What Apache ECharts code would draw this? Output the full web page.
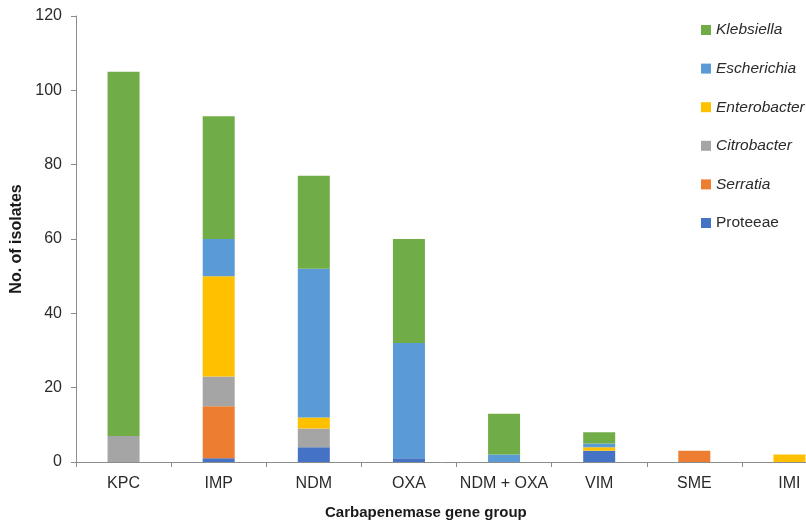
<!DOCTYPE html>
<html>
<head>
<meta charset="utf-8">
<script src="https://cdn.jsdelivr.net/npm/echarts@6/dist/echarts.min.js"></script>
<style>
  html, body { margin: 0; padding: 0; background: #fff; }
  #chart { width: 806px; height: 523px; }
</style>
</head>
<body>
<div id="chart"></div>
<script>
// Carbapenemase gene groups and isolate counts per genus
const categories = ['KPC', 'IMP', 'NDM', 'OXA', 'NDM + OXA', 'VIM', 'SME', 'IMI'];
const proteeae     = [0, 1, 4, 1, 0, 3, 0, 0];
const serratia     = [0, 14, 0, 0, 0, 0, 3, 0];
const citrobacter  = [7, 8, 5, 0, 0, 0, 0, 0];
const enterobacter = [0, 27, 3, 0, 0, 1, 0, 2];
const escherichia  = [0, 10, 40, 31, 2, 1, 0, 0];
const klebsiella   = [98, 33, 25, 28, 11, 3, 0, 0];
const yTicks = [0, 20, 40, 60, 80, 100, 120];

const FONT = "'Liberation Sans', Arial, sans-serif";
const TXT = '#2b2b2b';

const stackDefs = [
  { name: 'Proteeae', data: proteeae, color: '#4472C4' },
  { name: 'Serratia', data: serratia, color: '#ED7D31' },
  { name: 'Citrobacter', data: citrobacter, color: '#A5A5A5' },
  { name: 'Enterobacter', data: enterobacter, color: '#FFC000' },
  { name: 'Escherichia', data: escherichia, color: '#5B9BD5' },
  { name: 'Klebsiella', data: klebsiella, color: '#70AD47' }
];

const chart = echarts.init(document.getElementById('chart'), null, { renderer: 'canvas' });

chart.setOption({
  animation: false,
  backgroundColor: '#fff',
  textStyle: { fontFamily: FONT },
  // plot area runs past the right edge of the canvas; the last column is cut off
  grid: { left: 76, top: 16, bottom: 61, width: 761, containLabel: false, outerBoundsMode: 'none' },
  legend: {
    orient: 'vertical',
    left: 701,
    top: 22,
    padding: 0,
    itemWidth: 10,
    itemHeight: 10,
    itemGap: 22.6,
    icon: 'rect',
    data: ['Klebsiella', 'Escherichia', 'Enterobacter', 'Citrobacter', 'Serratia', 'Proteeae'],
    formatter: function (n) { return n === 'Proteeae' ? '{n|' + n + '}' : '{i|' + n + '}'; },
    textStyle: {
      fontFamily: FONT,
      fontSize: 15.5,
      color: TXT,
      rich: {
        i: { fontStyle: 'italic', fontSize: 15.5, fontFamily: FONT, color: TXT, lineHeight: 16 },
        n: { fontSize: 15.5, fontFamily: FONT, color: TXT, lineHeight: 16 }
      }
    }
  },
  xAxis: {
    type: 'category',
    data: categories,
    axisLine: { lineStyle: { color: '#8c8c8c', width: 1 } },
    axisTick: { show: true, length: 5, alignWithLabel: false, lineStyle: { color: '#8c8c8c' } },
    axisLabel: { color: TXT, fontSize: 16, margin: 14, fontFamily: FONT, interval: 0 }
  },
  yAxis: {
    type: 'value',
    min: yTicks[0],
    max: yTicks[yTicks.length - 1],
    interval: 20,
    name: 'No. of isolates',
    nameLocation: 'middle',
    nameGap: 46,
    nameTextStyle: { color: '#1a1a1a', fontSize: 16, fontWeight: 'bold', fontFamily: FONT },
    axisLine: { show: true, lineStyle: { color: '#8c8c8c', width: 1 } },
    axisTick: { show: true, length: 5, lineStyle: { color: '#8c8c8c' } },
    splitLine: { show: false },
    axisLabel: { color: TXT, fontSize: 16, margin: 14, fontFamily: FONT }
  },
  graphic: [{
    type: 'text',
    left: 325,
    top: 505,
    style: {
      text: 'Carbapenemase gene group',
      fill: '#1a1a1a',
      font: 'bold 15px ' + FONT
    }
  }],
  series: stackDefs.map(d => ({
    name: d.name,
    type: 'bar',
    stack: 'total',
    barWidth: 32,
    data: d.data,
    itemStyle: { color: d.color }
  }))
});
</script>
</body>
</html>
